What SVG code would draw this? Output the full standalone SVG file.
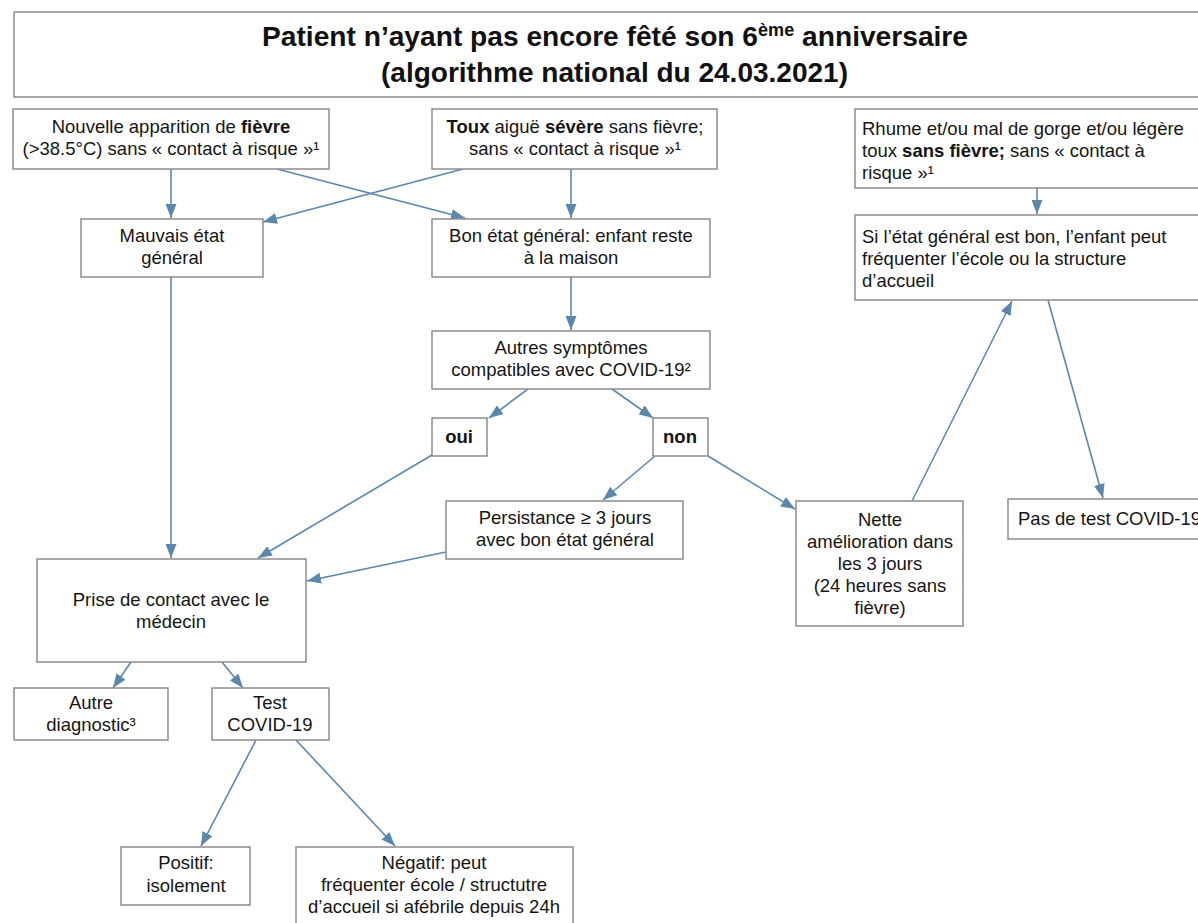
<svg xmlns="http://www.w3.org/2000/svg" width="1198" height="923" viewBox="0 0 1198 923">
<style>
.box{fill:#fff;stroke:#8c8c8c;stroke-width:1.5}
.t{font-family:"Liberation Sans",Arial,sans-serif;font-size:18.5px;fill:#151515;text-anchor:middle}
.l{text-anchor:start}
.b{font-weight:bold}
.ttl{font-family:"Liberation Sans",Arial,sans-serif;font-size:28px;font-weight:bold;fill:#111}
.c{stroke:#5b87ad;stroke-width:1.6;fill:none;marker-end:url(#ah)}
</style>
<defs>
<marker id="ah" viewBox="0 0 14 11" refX="14" refY="5.5" markerWidth="14" markerHeight="11" orient="auto" markerUnits="userSpaceOnUse">
<path d="M0,0 L14,5.5 L0,11 z" fill="#5b87ad"/>
</marker>
</defs>
<rect width="1198" height="923" fill="#fff"/>
<g id="title">
<rect class="box" x="14" y="12" width="1200" height="85"/>
<text class="ttl" x="262" y="46" textLength="706" lengthAdjust="spacingAndGlyphs">Patient n’ayant pas encore fêté son 6<tspan dy="-10" font-size="18">ème</tspan><tspan dy="10"> anniversaire</tspan></text>
<text class="ttl" x="381" y="82" textLength="467" lengthAdjust="spacingAndGlyphs">(algorithme national du 24.03.2021)</text>
</g>
<g id="connectors">
<line class="c" x1="171" y1="169" x2="171" y2="218"/>
<line class="c" x1="277" y1="169" x2="465" y2="218"/>
<line class="c" x1="571" y1="169" x2="571" y2="218"/>
<line class="c" x1="463" y1="169" x2="263" y2="222"/>
<line class="c" x1="171" y1="277" x2="171" y2="558"/>
<line class="c" x1="571" y1="277" x2="571" y2="330"/>
<line class="c" x1="528" y1="389" x2="489" y2="418"/>
<line class="c" x1="612" y1="389" x2="653" y2="418"/>
<line class="c" x1="432" y1="455" x2="258" y2="558"/>
<line class="c" x1="655" y1="456" x2="603" y2="500"/>
<line class="c" x1="708" y1="456" x2="795" y2="509"/>
<line class="c" x1="446" y1="552" x2="307" y2="581"/>
<line class="c" x1="912" y1="501" x2="1012" y2="301"/>
<line class="c" x1="1037" y1="188" x2="1037" y2="214"/>
<line class="c" x1="1048" y1="300" x2="1103" y2="498"/>
<line class="c" x1="131" y1="662" x2="113" y2="688"/>
<line class="c" x1="222" y1="662" x2="243" y2="688"/>
<line class="c" x1="256" y1="740" x2="201" y2="846"/>
<line class="c" x1="296" y1="740" x2="395" y2="846"/>
</g>
<g id="fievre">
<rect class="box" x="13" y="109" width="316" height="60"/>
<text class="t" x="171" y="133">Nouvelle apparition de <tspan class="b">fièvre</tspan></text>
<text class="t" x="171" y="155">(&gt;38.5°C) sans « contact à risque »¹</text>
</g>
<g id="toux">
<rect class="box" x="432" y="109" width="285" height="60"/>
<text class="t" x="575" y="133"><tspan class="b">Toux</tspan> aiguë <tspan class="b">sévère</tspan> sans fièvre;</text>
<text class="t" x="575" y="155">sans « contact à risque »¹</text>
</g>
<g id="rhume">
<rect class="box" x="855" y="109" width="360" height="79"/>
<text class="t l" x="862" y="135">Rhume et/ou mal de gorge et/ou légère</text>
<text class="t l" x="862" y="157">toux <tspan class="b">sans fièvre;</tspan> sans « contact à</text>
<text class="t l" x="862" y="179">risque »¹</text>
</g>
<g id="mauvais">
<rect class="box" x="81" y="219" width="182" height="58"/>
<text class="t" x="172" y="242">Mauvais état</text>
<text class="t" x="172" y="264">général</text>
</g>
<g id="bon">
<rect class="box" x="432" y="219" width="278" height="58"/>
<text class="t" x="571" y="242">Bon état général: enfant reste</text>
<text class="t" x="571" y="264">à la maison</text>
</g>
<g id="ecole">
<rect class="box" x="855" y="215" width="360" height="85"/>
<text class="t l" x="862" y="243">Si l’état général est bon, l’enfant peut</text>
<text class="t l" x="862" y="265">fréquenter l’école ou la structure</text>
<text class="t l" x="862" y="287">d’accueil</text>
</g>
<g id="autres">
<rect class="box" x="432" y="331" width="278" height="58"/>
<text class="t" x="571" y="354">Autres symptômes</text>
<text class="t" x="571" y="376">compatibles avec COVID-19²</text>
</g>
<g id="oui">
<rect class="box" x="432" y="418" width="55" height="38"/>
<text class="t b" x="459" y="443">oui</text>
</g>
<g id="non">
<rect class="box" x="653" y="418" width="55" height="38"/>
<text class="t b" x="680" y="443">non</text>
</g>
<g id="persistance">
<rect class="box" x="446" y="501" width="237" height="58"/>
<text class="t" x="565" y="524">Persistance ≥ 3 jours</text>
<text class="t" x="565" y="546">avec bon état général</text>
</g>
<g id="amelioration">
<rect class="box" x="796" y="501" width="167" height="125"/>
<text class="t" x="880" y="526">Nette</text>
<text class="t" x="880" y="548">amélioration dans</text>
<text class="t" x="880" y="570">les 3 jours</text>
<text class="t" x="880" y="592">(24 heures sans</text>
<text class="t" x="880" y="614">fièvre)</text>
</g>
<g id="pastest">
<rect class="box" x="1008" y="499" width="210" height="40"/>
<text class="t l" x="1018" y="525">Pas de test COVID-19</text>
</g>
<g id="medecin">
<rect class="box" x="37" y="559" width="269" height="103"/>
<text class="t" x="171" y="606">Prise de contact avec le</text>
<text class="t" x="171" y="628">médecin</text>
</g>
<g id="diagnostic">
<rect class="box" x="14" y="688" width="154" height="52"/>
<text class="t" x="91" y="709">Autre</text>
<text class="t" x="91" y="731">diagnostic³</text>
</g>
<g id="test">
<rect class="box" x="212" y="688" width="117" height="52"/>
<text class="t" x="270" y="709">Test</text>
<text class="t" x="270" y="731">COVID-19</text>
</g>
<g id="positif">
<rect class="box" x="121" y="847" width="129" height="58"/>
<text class="t" x="186" y="869">Positif:</text>
<text class="t" x="186" y="892">isolement</text>
</g>
<g id="negatif">
<rect class="box" x="296" y="847" width="277" height="90"/>
<text class="t" x="434" y="869">Négatif: peut</text>
<text class="t" x="434" y="891">fréquenter école / structutre</text>
<text class="t" x="434" y="913">d’accueil si afébrile depuis 24h</text>
</g>
</svg>
